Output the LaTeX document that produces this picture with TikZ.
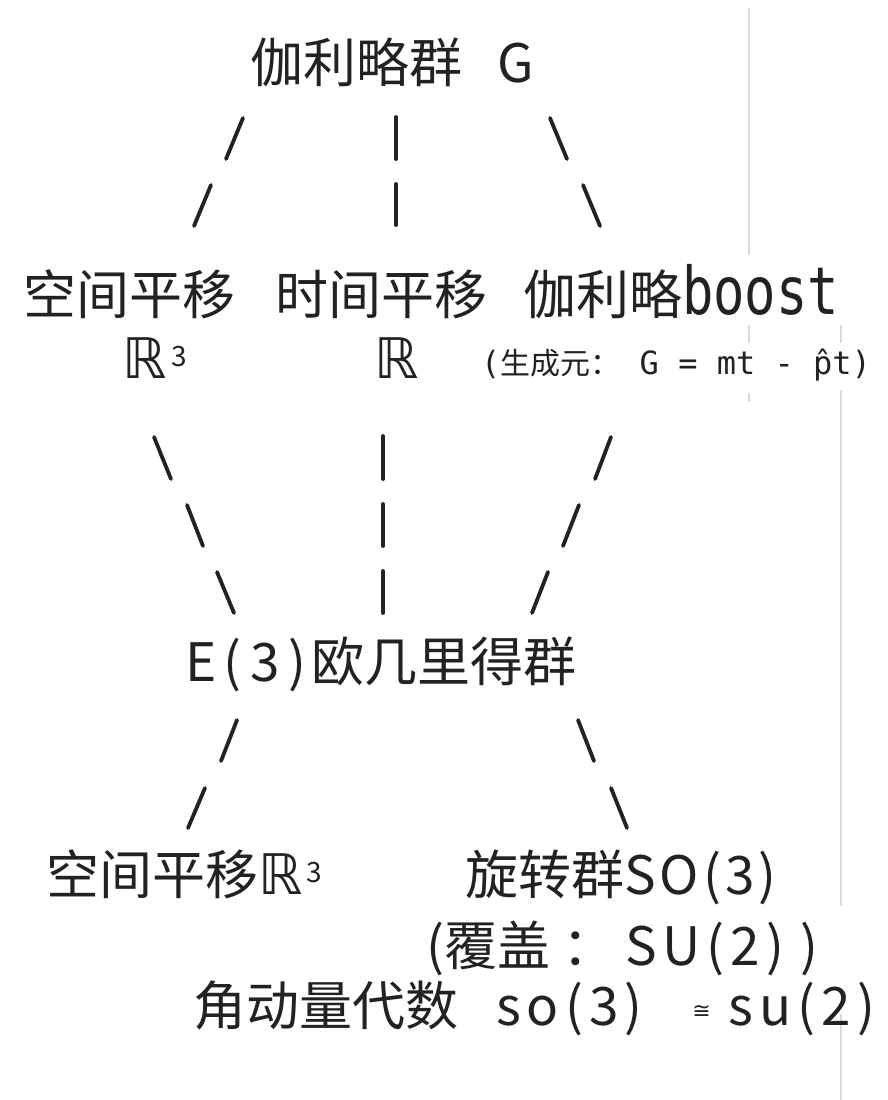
\documentclass[tikz,border=0pt]{standalone}
\usepackage{fontspec}
\usepackage{graphicx}
\newfontfamily\cjk{Noto Sans CJK SC}
\newfontfamily\monof{DejaVu Sans Mono}
\newfontfamily\djv{DejaVu Sans}
\definecolor{ink}{HTML}{222222}
\definecolor{ghostc}{HTML}{DADADA}
\newcommand\gk[1]{\hspace{#1pt}}
\newcommand\dsR{{\djv\fontsize{56}{60}\selectfont ℝ}}
\newcommand\supthree{\raisebox{12pt}{\fontsize{28}{28}\selectfont 3}}
\tikzset{
  big/.style={font=\cjk\fontsize{53}{60}\selectfont, text=ink, inner sep=0pt, anchor=base west},
  small/.style={font=\cjk\fontsize{30}{34}\selectfont, text=ink, inner sep=0pt, anchor=base west},
  stroke/.style={draw=ink, line width=3.8pt, line cap=round},
  ghost/.style={draw=ghostc, line width=1.5pt}
}
\begin{document}
\begin{tikzpicture}[x=1pt,y=-1pt]
\useasboundingbox[fill=white] (0,0) rectangle (888,1100);
% faint vertical lines
\draw[ghost] (749,8) -- (749,255);
\draw[ghost] (749,325) -- (749,343);
\draw[ghost] (749,393) -- (749,402);
\draw[ghost] (841,325) -- (841,343);
\draw[ghost] (841,390) -- (841,906);
\draw[ghost] (841,1014) -- (841,1100);
% texts
\node[big] (G) at (250,82) {伽利略群\gk{35}G};
\node[big] (sp1) at (23,314) {空间平移};
\node[big] (tp) at (275,314) {时间平移};
\node[big] (gb) at (523,314) {伽利略\scalebox{0.79}[1]{\monof\fontsize{66}{66}\selectfont boost}};
\node[big] (r3) at (122,378) {\dsR\gk{5}\supthree};
\node[big] (r1) at (374,378) {\dsR};
\node[small] (gen) at (481,374) {{\monof\fontsize{32}{34}\selectfont (}生成元：{\monof\fontsize{32}{34}\selectfont{} G = mt - p^^^^0302t)}};
\node[big] (e3) at (185,681) {E\gk{7}(\gk{9}3\gk{9})\gk{5}欧几里得群};
\node[big] (sp2) at (46,894) {空间平移\dsR\gk{4}\supthree};
\node[big] (so3) at (465,894) {旋转群S\gk{4}O\gk{4}(\gk{4}3\gk{4})};
\node[big] (cov) at (426,965) {(覆盖\gk{12}：\gk{10}S\gk{6}U\gk{6}(\gk{6}2\gk{6})\gk{16})};
\node[big] (alg) at (193,1025) {角动量代数\gk{38}s\gk{6}o\gk{6}(\gk{6}3\gk{6})\gk{50}\raisebox{7pt}{\djv\fontsize{22}{24}\selectfont ≅}\gk{18}s\gk{6}u\gk{6}(\gk{6}2\gk{6})};
% stroke end points
\coordinate (a1) at (243,118); \coordinate (a2) at (226,159);
\coordinate (b1) at (396,117); \coordinate (b2) at (396,159);
\coordinate (c1) at (550,118); \coordinate (c2) at (567,159);
\coordinate (a3) at (211,185); \coordinate (a4) at (194,226);
\coordinate (b3) at (396,184); \coordinate (b4) at (396,225);
\coordinate (c3) at (583,185); \coordinate (c4) at (600,226);
\coordinate (d1) at (154,437); \coordinate (d2) at (171,479);
\coordinate (e1) at (383,436); \coordinate (e2) at (383,479);
\coordinate (f1) at (611,437); \coordinate (f2) at (595,479);
\coordinate (d3) at (187,505); \coordinate (d4) at (203,546);
\coordinate (e3a) at (383,504); \coordinate (e4) at (383,546);
\coordinate (f3) at (579,505); \coordinate (f4) at (563,546);
\coordinate (d5) at (217,572); \coordinate (d6) at (234,613);
\coordinate (e5) at (383,571); \coordinate (e6) at (383,613);
\coordinate (f5) at (548,572); \coordinate (f6) at (532,613);
\coordinate (g1) at (237,720); \coordinate (g2) at (221,761);
\coordinate (h1) at (578,720); \coordinate (h2) at (594,761);
\coordinate (g3) at (205,788); \coordinate (g4) at (188,828);
\coordinate (h3) at (611,788); \coordinate (h4) at (627,828);
\draw[stroke] (a1) -- (a2); \draw[stroke] (b1) -- (b2); \draw[stroke] (c1) -- (c2);
\draw[stroke] (a3) -- (a4); \draw[stroke] (b3) -- (b4); \draw[stroke] (c3) -- (c4);
\draw[stroke] (d1) -- (d2); \draw[stroke] (e1) -- (e2); \draw[stroke] (f1) -- (f2);
\draw[stroke] (d3) -- (d4); \draw[stroke] (e3a) -- (e4); \draw[stroke] (f3) -- (f4);
\draw[stroke] (d5) -- (d6); \draw[stroke] (e5) -- (e6); \draw[stroke] (f5) -- (f6);
\draw[stroke] (g1) -- (g2); \draw[stroke] (h1) -- (h2);
\draw[stroke] (g3) -- (g4); \draw[stroke] (h3) -- (h4);
\end{tikzpicture}
\end{document}
